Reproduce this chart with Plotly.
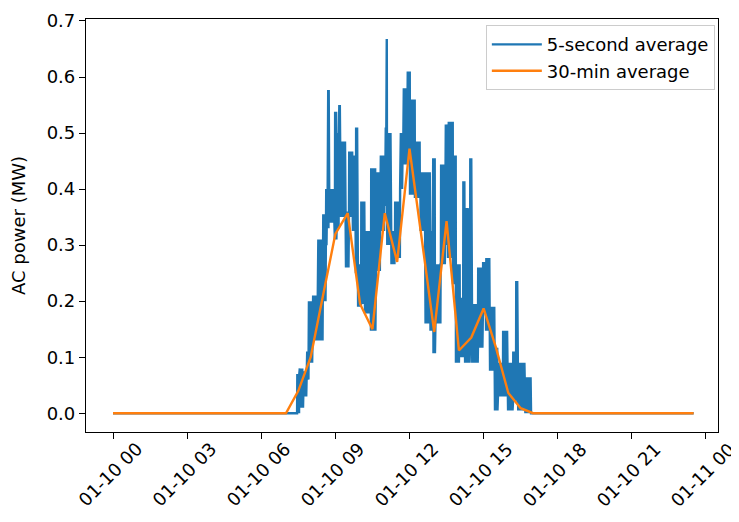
import numpy as np
import pandas as pd
import plotly.graph_objects as go

DAY = pd.Timestamp("2019-01-10 00:00")

# 30-minute averages (MW), one value per half hour starting 00:00
orange_values = [
    0, 0, 0, 0, 0, 0, 0, 0, 0, 0, 0, 0, 0, 0,          # 00:00 - 06:30
    0.0, 0.04, 0.10, 0.21, 0.32, 0.357,                 # 07:00 - 09:30
    0.195, 0.15, 0.357, 0.27, 0.472, 0.31,              # 10:00 - 12:30
    0.145, 0.343, 0.112, 0.135, 0.187, 0.117,           # 13:00 - 15:30
    0.036, 0.009,                                       # 16:00 - 16:30
    0, 0, 0, 0, 0, 0, 0, 0, 0, 0, 0, 0, 0, 0,           # 17:00 - 23:30
]

# 5-second average, read as the band (high / low) it covers in each short stretch
blue_seg_start = [7.45, 7.55, 7.70, 7.85, 7.92, 8.09, 8.30, 8.50, 8.62, 8.68, 8.74,
                  8.98, 9.05, 9.15, 9.22, 9.43, 9.55, 9.71, 9.83, 9.90, 10.04,
                  10.20, 10.44, 10.64, 10.81, 11.01, 11.05, 11.10, 11.25, 11.41,
                  11.62, 11.74, 11.90, 12.02, 12.22, 12.43, 12.63, 12.83, 12.95,
                  13.05, 13.27, 13.44, 13.56, 13.76, 13.88, 14.04, 14.17, 14.25,
                  14.45, 14.52, 14.77, 14.97, 15.10, 15.26, 15.46, 15.58, 15.78,
                  15.99, 16.19, 16.31, 16.40, 16.67]
blue_high = [0.07, 0.08, 0.075, 0.11, 0.20, 0.21, 0.31, 0.355, 0.40, 0.577, 0.40,
             0.538, 0.50, 0.55, 0.485, 0.36, 0.467, 0.46, 0.51, 0.266, 0.378,
             0.325, 0.437, 0.43, 0.46, 0.51, 0.668, 0.50, 0.325, 0.378,
             0.50, 0.58, 0.61, 0.56, 0.485, 0.43, 0.43, 0.325, 0.455,
             0.266, 0.444, 0.515, 0.52, 0.46, 0.266, 0.206, 0.414, 0.366,
             0.455, 0.195, 0.26, 0.27, 0.277, 0.19, 0.117, 0.09, 0.147,
             0.09, 0.11, 0.236, 0.09, 0.064]
blue_low = [0.0, 0.01, 0.03, 0.06, 0.09, 0.13, 0.13, 0.20, 0.30, 0.33, 0.34,
            0.31, 0.33, 0.37, 0.35, 0.26, 0.35, 0.325, 0.25, 0.19, 0.195,
            0.178, 0.147, 0.254, 0.325, 0.37, 0.40, 0.30, 0.266, 0.277,
            0.40, 0.444, 0.45, 0.39, 0.384, 0.325, 0.16, 0.147, 0.107,
            0.16, 0.266, 0.30, 0.277, 0.23, 0.09, 0.10, 0.13, 0.09,
            0.117, 0.09, 0.117, 0.178, 0.147, 0.076, 0.005, 0.03, 0.03,
            0.005, 0.02, 0.03, 0.005, 0.0]
blue_end_hour = 16.92
series_end_hour = 23.5

x_tick_labels = ["01-10 00", "01-10 03", "01-10 06", "01-10 09", "01-10 12",
                 "01-10 15", "01-10 18", "01-10 21", "01-11 00"]
x_tick_hours = [0, 3, 6, 9, 12, 15, 18, 21, 24]
y_ticks = [0.0, 0.1, 0.2, 0.3, 0.4, 0.5, 0.6, 0.7]

BLUE = "#1f77b4"
ORANGE = "#ff7f0e"
FONT = "DejaVu Sans"
FS = 18
PAGE_OFFSET = 8  # default body margin of the html page
W, H = 739, 522
PLOT_L, PLOT_R, PLOT_T, PLOT_B = 86, 718, 19, 432  # wanted plot box in window pixels


def at(h):
    return DAY + pd.to_timedelta(h, unit="h")


# build the blue trace: it swings between the read high and low of each stretch
b_hours = [0.0]
b_vals = [0.0]
ends = blue_seg_start[1:] + [blue_end_hour]
for t0, t1, hi, lo in zip(blue_seg_start, ends, blue_high, blue_low):
    n = max(2, int(round((t1 - t0) / 0.01)))
    ts = np.linspace(t0, t1, n, endpoint=False)
    for k, t in enumerate(ts):
        b_hours.append(t)
        b_vals.append(hi if k % 2 else lo)
b_hours += [blue_end_hour, series_end_hour]
b_vals += [0.0, 0.0]
blue_x = [at(h) for h in b_hours]

orange_x = pd.date_range(DAY, periods=len(orange_values), freq="30min")

fig = go.Figure()
fig.add_trace(go.Scatter(x=blue_x, y=b_vals, mode="lines", name="5-second average",
                         line=dict(color=BLUE, width=2.4)))
fig.add_trace(go.Scatter(x=orange_x, y=orange_values, mode="lines", name="30-min average",
                         line=dict(color=ORANGE, width=2.4)))

for lab, h in zip(x_tick_labels, x_tick_hours):
    fig.add_annotation(x=at(h), y=0, xref="x", yref="paper", text=lab,
                       showarrow=False, textangle=-45, xanchor="center", yanchor="top",
                       yshift=-5, xshift=-3, borderpad=0,
                       font=dict(family=FONT, size=FS, color="black"))

fw, fh = W - PAGE_OFFSET, H - PAGE_OFFSET
fig.update_layout(
    width=fw, height=fh,
    margin=dict(l=PLOT_L - PAGE_OFFSET, r=W - PLOT_R, t=PLOT_T - PAGE_OFFSET, b=H - PLOT_B,
                autoexpand=False),
    paper_bgcolor="white", plot_bgcolor="white",
    font=dict(family=FONT, size=FS, color="black"),
    showlegend=True,
    legend=dict(x=0.995, y=0.985, xanchor="right", yanchor="top",
                bgcolor="rgba(255,255,255,0.8)", bordercolor="#cccccc", borderwidth=1,
                itemwidth=50,
                font=dict(family=FONT, size=FS, color="black")),
    xaxis=dict(type="date", range=[at(-1.093), at(24.486)],
               tickvals=[at(h) for h in x_tick_hours], showticklabels=False,
               ticks="outside", ticklen=6, tickwidth=1.2, tickcolor="black",
               showline=True, linecolor="black", linewidth=1.2, mirror=True,
               showgrid=False, zeroline=False),
    yaxis=dict(range=[-0.0335, 0.7035], tickvals=y_ticks, tickformat=".1f",
               ticks="outside", ticklen=6, tickwidth=1.2, tickcolor="black",
               showline=True, linecolor="black", linewidth=1.2, mirror=True,
               showgrid=False, zeroline=False,
               title=dict(text="AC power (MW)", font=dict(family=FONT, size=FS), standoff=17)),
)

fig.write_html("out.html")
